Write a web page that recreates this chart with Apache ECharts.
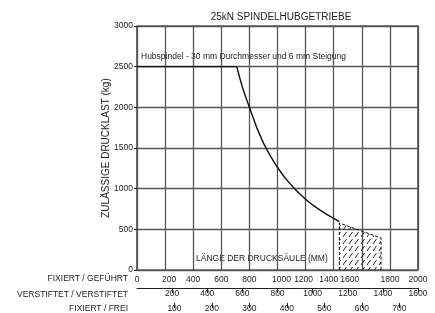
<!DOCTYPE html>
<html>
<head>
<meta charset="utf-8">
<script src="https://cdn.jsdelivr.net/npm/echarts@6/dist/echarts.min.js"></script>
<style>
  html, body { margin: 0; padding: 0; background: #fff; }
  #chart { width: 435px; height: 313px; }
</style>
</head>
<body>
<div id="chart"></div>
<script>
// Zulässige Drucklast (kg) über Länge der Drucksäule (mm)
const loadCurve = [
  [0, 2500], [710, 2500], [730, 2370], [750, 2250], [775, 2120],
  [800, 2000], [850, 1760], [900, 1560], [950, 1400], [1000, 1260],
  [1050, 1140], [1100, 1040], [1150, 950], [1200, 870], [1250, 800],
  [1300, 740], [1350, 685], [1400, 635], [1440, 595],
];
// schraffierter Bereich
const hatchArea = [[1440, 0], [1440, 578], [1737, 393], [1737, 0]];

const yTicks = { min: 0, max: 3000, step: 500 };
const lengthFixedGuided = { min: 0, max: 2000, step: 200 };
const lengthPinnedPinned = { min: 0, max: 1600, step: 200 };
const lengthFixedFree = { min: 0, max: 750, step: 100 };

const font = "Liberation Sans, Arial, sans-serif";
const txt = "#222";
const plain = (v) => String(v);

// the original's lower labels sit a little off their gridlines
const labelShift = { 200: 4, 1000: 4, 1200: -2, 1400: -5, 1600: -12 };
const shiftRich = {};
Object.keys(labelShift).forEach((k) => {
  const s = labelShift[k];
  shiftRich["s" + k] = {
    fontFamily: font,
    fontSize: 8.5,
    color: txt,
    padding: s > 0 ? [0, 0, 0, 2 * s] : [0, -2 * s, 0, 0],
  };
});

function hatchPattern() {
  const c = document.createElement("canvas");
  c.width = 6;
  c.height = 7;
  const ctx = c.getContext("2d");
  ctx.strokeStyle = "#111";
  ctx.lineWidth = 0.9;
  ctx.beginPath();
  ctx.moveTo(1, 6);
  ctx.lineTo(4.5, 1);
  ctx.stroke();
  return c;
}

const chart = echarts.init(document.getElementById("chart"), null, { renderer: "canvas" });

chart.setOption({
  animation: false,
  backgroundColor: "#fff",
  title: {
    text: "25kN SPINDELHUBGETRIEBE",
    left: 276,
    top: 7,
    textAlign: "center",
    textStyle: { fontFamily: font, fontSize: 10, fontWeight: "normal", color: txt },
  },
  grid: { left: 137, right: 17, top: 26, bottom: 43, show: true, borderColor: "#111", borderWidth: 1.2 },
  xAxis: [
    {
      type: "value",
      min: lengthFixedGuided.min,
      max: lengthFixedGuided.max,
      interval: lengthFixedGuided.step,
      position: "bottom",
      axisLine: { show: false },
      axisTick: { show: false },
      axisLabel: {
        fontFamily: font,
        fontSize: 8.5,
        color: txt,
        margin: 5,
        formatter: (v) => (labelShift[v] ? `{s${v}|${v}}` : String(v)),
        rich: shiftRich,
      },
      splitLine: { show: true, lineStyle: { color: "#555", width: 1.3 } },
    },
    {
      type: "value",
      min: lengthPinnedPinned.min,
      max: lengthPinnedPinned.max,
      interval: lengthPinnedPinned.step,
      position: "bottom",
      offset: 18,
      axisLine: { show: true, lineStyle: { color: "#222", width: 1 } },
      axisTick: { show: true, length: 5, lineStyle: { color: "#222" } },
      axisLabel: { fontFamily: font, fontSize: 8.5, color: txt, margin: 1, showMinLabel: false, formatter: plain },
      splitLine: { show: false },
    },
    {
      type: "value",
      min: lengthFixedFree.min,
      max: lengthFixedFree.max,
      interval: lengthFixedFree.step,
      position: "bottom",
      offset: 33,
      axisLine: { show: false },
      axisTick: { show: true, length: 5, lineStyle: { color: "#222" } },
      axisLabel: { fontFamily: font, fontSize: 8.5, color: txt, margin: 1, showMinLabel: false, showMaxLabel: false, formatter: plain },
      splitLine: { show: false },
    },
  ],
  yAxis: {
    type: "value",
    min: yTicks.min,
    max: yTicks.max,
    interval: yTicks.step,
    name: "ZULÄSSIGE DRUCKLAST (kg)",
    nameLocation: "middle",
    nameGap: 26,
    nameMoveOverlap: false,
    nameTextStyle: { fontFamily: font, fontSize: 10, color: txt },
    axisLine: { show: false },
    axisTick: { show: true, length: 3, lineStyle: { color: "#222" } },
    axisLabel: { fontFamily: font, fontSize: 8.5, color: txt, margin: 4, formatter: plain },
    splitLine: { show: true, lineStyle: { color: "#555", width: 1.3 } },
  },
  graphic: [
    {
      type: "text",
      left: 141,
      top: 52,
      style: { text: "Hubspindel - 30 mm Durchmesser und 6 mm Steigung", font: "8.5px " + font, fill: txt },
    },
    {
      type: "text",
      left: 196,
      top: 254,
      style: { text: "LÄNGE DER DRUCKSÄULE (MM)", font: "8.5px " + font, fill: txt },
    },
    {
      type: "text",
      right: 307,
      top: 274,
      style: { text: "FIXIERT / GEFÜHRT", font: "8.5px " + font, fill: txt, textAlign: "right" },
    },
    {
      type: "text",
      right: 307,
      top: 290,
      style: { text: "VERSTIFTET / VERSTIFTET", font: "8.5px " + font, fill: txt, textAlign: "right" },
    },
    {
      type: "text",
      right: 307,
      top: 304,
      style: { text: "FIXIERT / FREI", font: "8.5px " + font, fill: txt, textAlign: "right" },
    },
  ],
  series: [
    {
      type: "line",
      data: loadCurve,
      xAxisIndex: 0,
      showSymbol: false,
      lineStyle: { color: "#111", width: 1.4 },
      z: 5,
    },
    {
      type: "line",
      data: hatchArea,
      xAxisIndex: 0,
      showSymbol: false,
      lineStyle: { color: "#111", width: 1, type: [3, 2] },
      areaStyle: { color: { image: hatchPattern(), repeat: "repeat" }, opacity: 1 },
      z: 4,
    },
  ],
});
</script>
</body>
</html>
